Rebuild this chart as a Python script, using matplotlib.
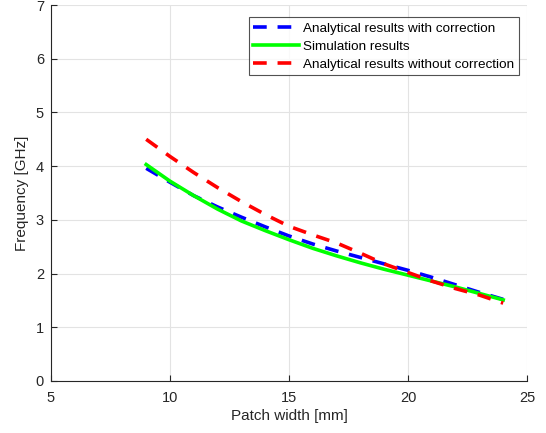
import matplotlib
matplotlib.use("Agg")
import matplotlib.pyplot as plt

plt.rcParams['font.family'] = ['Liberation Sans', 'DejaVu Sans']

width_mm = [9, 10, 11, 12, 13, 14, 15, 16, 17, 18, 19, 20, 21, 22, 23, 24]
with_corr = [3.96, 3.70, 3.45, 3.24, 3.05, 2.87, 2.70, 2.55, 2.42, 2.30, 2.18, 2.06, 1.93, 1.79, 1.65, 1.52]
simulation = [4.03, 3.72, 3.45, 3.20, 2.98, 2.80, 2.63, 2.47, 2.33, 2.20, 2.08, 1.97, 1.86, 1.75, 1.63, 1.51]
without_corr = [4.50, 4.18, 3.88, 3.60, 3.34, 3.10, 2.88, 2.72, 2.57, 2.38, 2.18, 2.02, 1.86, 1.72, 1.60, 1.45]

labels = ['Analytical results with correction', 'Simulation results',
          'Analytical results without correction']
xticks = [5, 10, 15, 20, 25]
yticks = [0, 1, 2, 3, 4, 5, 6, 7]

fig = plt.figure(figsize=(5.46, 4.33), dpi=100)
ax = fig.add_axes([51/546, 1 - 381/433, (527 - 51)/546, (381 - 5)/433])

dash = (0, (3.8, 3.0))
ax.plot(width_mm, with_corr, color='#0000ff', lw=2.6, linestyle=dash, label=labels[0])
ax.plot(width_mm, simulation, color='#00ff00', lw=2.6, linestyle='-', label=labels[1])
ax.plot(width_mm, without_corr, color='#ff0000', lw=2.6, linestyle=dash, label=labels[2])

ax.set_xlim(5, 25)
ax.set_ylim(0, 7)
ax.set_xticks(xticks)
ax.set_yticks(yticks)
ax.grid(True, color='#e3e3e3', lw=0.8)
ax.set_axisbelow(True)
for s in ['top', 'right']:
    ax.spines[s].set_visible(False)
for s in ['left', 'bottom']:
    ax.spines[s].set_color('#262626')
    ax.spines[s].set_linewidth(0.8)
ax.tick_params(direction='in', length=4, colors='#262626', labelsize=10.5, width=0.8)
ax.tick_params(axis='x', pad=7)
ax.tick_params(axis='y', pad=5)
ax.set_xlabel('Patch width [mm]', fontsize=11, color='#262626', labelpad=3)
ax.set_ylabel('Frequency [GHz]', fontsize=11, color='#262626', labelpad=5)

leg = ax.legend(loc='upper right', bbox_to_anchor=(0.983, 0.967), fontsize=9.7,
                frameon=True, fancybox=False, edgecolor='#262626',
                handlelength=3.4, borderpad=0.35, labelspacing=0.42,
                handletextpad=0.3, borderaxespad=0)
leg.get_frame().set_linewidth(0.8)

fig.savefig('out.png', dpi=100)
